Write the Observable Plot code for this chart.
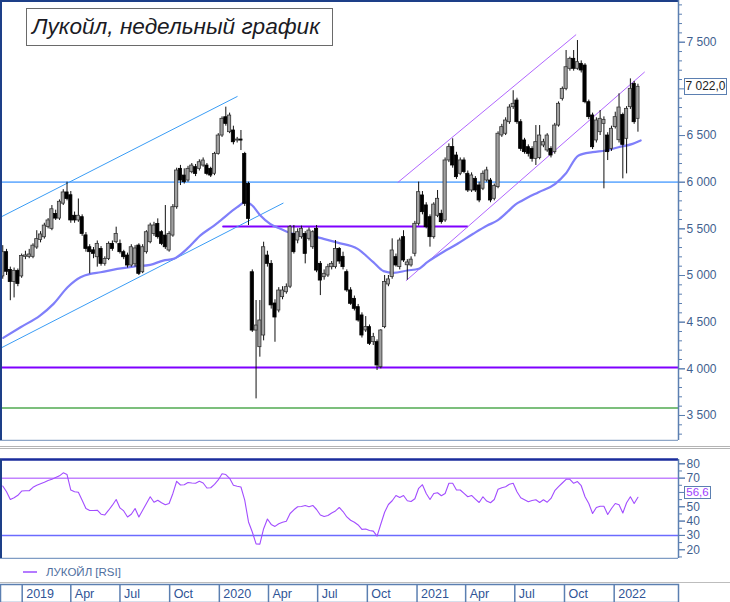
<!DOCTYPE html>
<html><head><meta charset="utf-8">
<script src="https://cdn.jsdelivr.net/npm/d3@7"></script>
<script src="https://cdn.jsdelivr.net/npm/@observablehq/plot@0.6"></script>
<style>
body{margin:0;background:#fff;}
#wrap{position:relative;width:730px;height:602px;overflow:hidden;font-family:"Liberation Sans",Arial,sans-serif;background:#fff;}
#wrap > *{position:absolute;}
</style></head><body><div id="wrap"></div>
<script>
// ---------- DATA ----------
const firstWeek = "2018-11-26"; // weekly candles, Mondays
const opens = [4990,5250,5060,4930,5050,4990,5200,5200,5200,5300,5380,5410,5520,5500,5660,5610,5770,5890,5860,5640,5590,5625,5430,5303,5270,5196,5285,5125,5178,5339,5357,5339,5250,5214,5107,5120,5321,5035,5250,5357,5446,5553,5464,5428,5268,5428,5732,6143,6071,6018,6107,6161,6143,6178,6178,6143,6090,6303,6500,6696,6536,6554,6446,6457,6303,5982,5035,4410,4232,4357,5214,5125,4700,4625,4768,4821,4880,5446,5375,5411,5446,5393,5303,5500,5125,4982,5000,5089,5090,5285,5200,5036,4840,4750,4661,4572,4411,4447,4286,4286,4018,4447,4904,4983,5197,5090,5411,5110,5108,5233,5554,5858,5751,5625,5411,5640,5661,5590,6233,6376,6286,6090,6233,6090,5911,6036,5965,5930,6018,6018,5822,5947,6501,6519,6643,6804,6875,6643,6447,6375,6357,6250,6260,6393,6340,6357,6322,6607,6893,7000,7215,7322,7215,7268,7250,6857,6715,6447,6536,6625,6500,6357,6590,6450,6720,6465,6804,7054,6679];
const highs = [5320,5280,5090,5080,5070,5230,5260,5280,5340,5480,5470,5560,5610,5750,5700,5810,5920,6000,5900,5680,5820,5650,5460,5330,5300,5370,5310,5200,5360,5370,5518,5380,5270,5240,5330,5320,5340,5330,5480,5560,5570,5607,5480,5750,5470,5760,6150,6180,6143,6170,6200,6190,6240,6260,6200,6160,6320,6520,6700,6804,6740,6600,6480,6554,6320,6000,5060,4732,4732,5357,5260,5160,4740,4870,4880,4910,5536,5536,5500,5530,5470,5510,5480,5536,5150,5060,5120,5150,5375,5300,5250,5060,4870,4780,4690,4600,4560,4470,4380,4310,4420,5000,5000,5393,5230,5400,5480,5170,5200,5580,6001,5900,5780,5650,5780,5911,5700,6260,6410,6465,6320,6260,6260,6120,6100,6060,6000,6120,6160,6040,5980,6540,6620,6690,6830,6980,6900,6670,6470,6400,6380,6607,6607,6460,6520,6380,6630,6860,7020,7411,7340,7411,7518,7300,7270,6880,6740,6690,6768,6700,6530,6600,6750,6947,6740,6810,7107,7080,7050];
const lows = [4960,5000,4730,4760,4880,4970,5170,5180,5180,5280,5350,5390,5500,5480,5590,5590,5750,5800,5560,5560,5570,5420,5250,5018,5180,5090,5100,5100,5160,5260,5340,5230,5170,5080,5090,5090,5000,5020,5230,5340,5420,5390,5320,5280,5250,5410,5710,5964,5980,6000,6090,6060,6120,6160,6070,6050,6070,6290,6480,6600,6520,6400,6420,6339,5740,5536,4390,3678,4125,4300,5090,4640,4285,4600,4740,4800,4860,5230,5340,5390,5125,5370,5280,5030,4785,4950,4980,5060,5070,5120,5060,4820,4680,4620,4500,4330,4390,4250,4250,3982,4000,4430,4880,4960,5090,5060,5140,4950,5090,5200,5530,5650,5500,5304,5390,5620,5550,5570,6210,6150,6030,6070,6090,5890,5890,5890,5780,5910,6000,5780,5800,5930,6480,6500,6620,6780,6620,6330,6300,6270,6215,6179,6240,6370,6320,6260,6300,6590,6870,6980,7190,7190,7200,7170,6840,6670,6350,6420,6500,5929,6232,6330,6570,6420,6036,6089,6780,6620,6536];
const closes = [5250,5040,4930,5050,4910,5210,5215,5225,5320,5390,5440,5535,5590,5710,5610,5790,5890,5820,5590,5590,5640,5446,5285,5250,5232,5339,5125,5178,5339,5285,5446,5250,5196,5107,5303,5290,5018,5303,5464,5536,5536,5411,5339,5303,5446,5732,6125,6018,6000,6143,6178,6089,6214,6232,6089,6071,6303,6500,6679,6625,6714,6428,6457,6446,5768,5607,4410,4464,4518,5303,5125,4680,4550,4839,4839,4875,5518,5250,5464,5500,5232,5482,5464,5053,4946,5018,5089,5125,5285,5150,5090,4840,4697,4643,4518,4357,4447,4268,4340,4036,4411,4930,4958,5268,5108,5375,5161,5140,5170,5554,5893,5679,5518,5411,5760,5822,5572,6233,6376,6179,6054,6233,6108,5911,6072,5911,5804,6090,6126,5804,5958,6519,6590,6661,6800,6840,6643,6357,6322,6304,6250,6429,6500,6429,6500,6286,6607,6840,7000,7232,7322,7215,7286,7197,6857,6697,6375,6661,6679,6668,6322,6572,6697,6800,6400,6786,7000,6643,7022];
const rsiValues = [64.5,60.5,55.1,56.3,58,61,61.2,61.2,63.6,65,66.1,67.1,68.3,69.2,70.4,71.6,73.7,72.5,61.7,60.5,60.1,54.6,48.8,47.4,47.4,47.6,44.8,44.3,47.6,51.1,55.1,49.2,47.1,42.9,44.8,48.8,42.9,47.6,52.3,57,53.2,54.6,52.8,51.4,52.3,59.3,67.8,65.2,65.4,66.9,66.6,66.4,67.8,66.6,63.1,63.3,65.7,68.7,73,72.5,69.9,65,64.3,63.8,54.6,39.4,32.4,24.1,23.9,34.7,41.5,37.7,36.3,38.2,39.2,39.9,45.3,47.9,50,50.2,50.9,50,50.9,48.1,44.3,43.2,43.9,45.7,47.1,49.5,46.7,42.9,40.6,39.2,37.3,34.2,34.5,33.5,33,29.5,38,46.2,51.6,54.2,57.9,56.5,57.9,54.2,53.7,55.6,62.9,65.4,59.3,55.1,59.3,59.8,57.7,59.3,66.4,66.4,61.7,61.7,59.3,57,57.9,55.4,53,57,54,52.8,55.1,62.2,63.3,64,65.7,66.4,60.5,56.3,54.9,53.5,54.4,54.9,53,54.9,53.2,55.8,61.2,64,66.6,69.2,69.2,66.4,67.6,64.7,57,52.3,45.3,49.5,50.4,50.4,44.6,48.8,52.3,51.4,45.7,52.8,57,52.3,56.6];
const maDates = ["2018-11-27","2018-12-29","2019-02-03","2019-02-28","2019-03-26","2019-04-19","2019-05-07","2019-05-26","2019-06-26","2019-07-26","2019-08-26","2019-09-19","2019-10-08","2019-11-03","2019-11-27","2019-12-21","2020-01-03","2020-02-03","2020-02-18","2020-03-02","2020-03-17","2020-04-04","2020-04-23","2020-05-17","2020-06-18","2020-07-12","2020-08-07","2020-09-13","2020-10-12","2020-10-31","2020-11-18","2020-12-14","2021-01-04","2021-01-20","2021-02-13","2021-03-17","2021-04-15","2021-05-11","2021-05-30","2021-06-17","2021-07-02","2021-07-15","2021-08-14","2021-09-14","2021-10-03","2021-10-27","2021-11-22","2021-12-16","2022-01-09","2022-02-04","2022-02-19"];
const maValues = [4332,4446,4571,4696,4875,4982,5018,5035,5071,5096,5114,5160,5178,5290,5430,5530,5589,5732,5786,5750,5643,5553,5500,5446,5428,5393,5352,5286,5143,5047,5029,5054,5072,5143,5233,5340,5447,5536,5590,5679,5760,5804,5893,5982,6090,6286,6322,6340,6375,6411,6447];
// trend lines
const blueUpperDates = ["2018-11-22","2020-02-03"], blueUpperValues = [5625,6918];
const blueLowerDates = ["2018-11-22","2020-04-28"], blueLowerValues = [4221,5775];
const purpleUpperDates = ["2020-11-27","2021-10-22"], purpleUpperValues = [6000,7579];
const purpleLowerDates = ["2020-12-12","2022-02-26"], purpleLowerValues = [4946,7179];
const resistDates = ["2020-01-08","2021-04-04"], resistValues = [5525,5525];
const levelBlue = [6000], levelPurple = [4015], levelGreen = [3580];
// axes (labels hidden behind the value boxes in the reference are left out)
const yTicks = [3500,4000,4500,5000,5500,6000,6500,7000,7500];
const yTickLabels = ["3 500","4 000","4 500","5 000","5 500","6 000","6 500","","7 500"];
const yMinor = [3300,3400,3600,3700,3800,3900,4100,4200,4300,4400,4600,4700,4800,4900,5100,5200,5300,5400,5600,5700,5800,5900,6100,6200,6300,6400,6600,6700,6800,6900,7100,7200,7300,7400,7600,7700,7800,7900];
const rsiTicks = [20,30,40,50,60,70,80];
const rsiTickLabels = ["20","30","40","50","","70","80"];
const rsiMinor = [15,25,35,45,55,65,75];
const rsiLevels70 = [70], rsiLevels30 = [30];
const quarterDates = ["2019-01-01","2019-04-01","2019-07-01","2019-10-01","2020-01-01","2020-04-01","2020-07-01","2020-10-01","2021-01-01","2021-04-01","2021-07-01","2021-10-01","2022-01-01"];
const quarterLabels = ["2019","Apr","Jul","Oct","2020","Apr","Jul","Oct","2021","Apr","Jul","Oct","2022"];
const titleText = "Лукойл, недельный график";
const legendText = "ЛУКОЙЛ [RSI]";
const lastPriceText = "7 022,0", lastPrice = 7022;
const lastRsiText = "56,6", lastRsi = 56.6;

// ---------- BUILD ----------
const t0 = Date.parse(firstWeek + "T00:00Z");
const weekDate = i => new Date(t0 + i * 7 * 864e5);
const D = s => new Date(s + "T00:00Z");
const candles = opens.map((o, i) => ({date: weekDate(i), open: o, high: highs[i], low: lows[i], close: closes[i], up: closes[i] >= o}));
const rsi = rsiValues.map((v, i) => ({date: weekDate(i), value: v}));
const ma = maDates.map((d, i) => ({date: D(d), value: maValues[i]}));
const seg = (ds, vs) => ds.map((d, i) => ({date: D(d), value: vs[i]}));
const yLab = new Map(yTicks.map((v, i) => [v, yTickLabels[i]]));
const rLab = new Map(rsiTicks.map((v, i) => [v, rsiTickLabels[i]]));
const yLabeled = yTicks.filter((v, i) => yTickLabels[i] !== "");
const rLabeled = rsiTicks.filter((v, i) => rsiTickLabels[i] !== "");
const xDomain = [new Date("2018-11-21T20:00Z"), new Date("2022-04-30T02:00Z")];
const axisCol = "#3f5f8f", axisLine = "#5b7fb1", navy = "#1d3f88";
const font = "Liberation Sans, Arial, sans-serif";

const main = Plot.plot({
  width: 730, height: 441, marginLeft: 0, marginRight: 52, marginTop: 0, marginBottom: 1,
  style: {fontFamily: font, background: "transparent"},
  x: {type: "utc", domain: xDomain, axis: null},
  y: {domain: [3232, 7947], label: null},
  marks: [
    Plot.ruleY(levelGreen, {stroke: "#7cbf7c", strokeWidth: 2}),
    Plot.ruleY(levelBlue, {stroke: "#72b2ff", strokeWidth: 1.8}),
    Plot.ruleY(levelPurple, {stroke: "#7f00ff", strokeWidth: 2}),
    Plot.line(seg(resistDates, resistValues), {x: "date", y: "value", stroke: "#7f00ff", strokeWidth: 2}),
    Plot.line(seg(blueUpperDates, blueUpperValues), {x: "date", y: "value", stroke: "#3a9cf5", strokeWidth: 1}),
    Plot.line(seg(blueLowerDates, blueLowerValues), {x: "date", y: "value", stroke: "#3a9cf5", strokeWidth: 1}),
    Plot.line(seg(purpleUpperDates, purpleUpperValues), {x: "date", y: "value", stroke: "#b066ff", strokeWidth: 1}),
    Plot.line(seg(purpleLowerDates, purpleLowerValues), {x: "date", y: "value", stroke: "#b066ff", strokeWidth: 1}),
    Plot.line(ma, {x: "date", y: "value", stroke: "#7f7ffa", strokeWidth: 2.2, curve: "monotone-x"}),
    Plot.ruleX(candles, {x: "date", y1: "low", y2: "high", stroke: "#111", strokeWidth: 1}),
    Plot.rect(candles, {x1: "date", x2: "date", y1: "open", y2: "close", insetLeft: -1.6, insetRight: -1.6,
      fill: d => d.up ? "#a0a0a0" : "#000", stroke: d => d.up ? "#333" : "#000", strokeWidth: 0.8}),
    Plot.ruleY([7947], {stroke: navy, strokeWidth: 3}),
    Plot.ruleY([3232], {stroke: "#8ea6c6", strokeWidth: 1.5}),
    Plot.ruleX([xDomain[0]], {stroke: navy, strokeWidth: 3}),
    Plot.ruleX([xDomain[1]], {stroke: axisLine, strokeWidth: 1.5}),
    Plot.axisY(yMinor, {anchor: "right", tickSize: 3, tickFormat: () => "", stroke: axisLine, label: null}),
    Plot.axisY(yTicks, {anchor: "right", tickSize: 6, tickFormat: () => "", stroke: axisLine, label: null}),
    Plot.axisY(yLabeled, {anchor: "right", tickSize: 6, tickPadding: 2, tickFormat: d => yLab.get(d), stroke: axisLine, fill: axisCol, fontSize: 12, label: null})
  ]
});

const rsiPlot = Plot.plot({
  width: 730, height: 101, marginLeft: 0, marginRight: 52, marginTop: 1, marginBottom: 1,
  style: {fontFamily: font, background: "transparent"},
  x: {type: "utc", domain: xDomain, axis: null},
  y: {domain: [13.9, 83.0], label: null},
  marks: [
    Plot.ruleY(rsiLevels70, {stroke: "#c283ff", strokeWidth: 1.5}),
    Plot.ruleY(rsiLevels30, {stroke: "#6b6bff", strokeWidth: 1.5}),
    Plot.line(rsi, {x: "date", y: "value", stroke: "#a24dff", strokeWidth: 1.1}),
    Plot.ruleY([83.0], {stroke: "#1a2c9c", strokeWidth: 2.5}),
    Plot.ruleY([13.9], {stroke: "#7f9cc4", strokeWidth: 1.5}),
    Plot.ruleX([xDomain[0]], {stroke: navy, strokeWidth: 3}),
    Plot.ruleX([xDomain[1]], {stroke: axisLine, strokeWidth: 1.5}),
    Plot.axisY(rsiMinor, {anchor: "right", tickSize: 3, tickFormat: () => "", stroke: axisLine, label: null}),
    Plot.axisY(rsiTicks, {anchor: "right", tickSize: 6, tickFormat: () => "", stroke: axisLine, label: null}),
    Plot.axisY(rLabeled, {anchor: "right", tickSize: 6, tickPadding: 2, tickFormat: d => rLab.get(d), stroke: axisLine, fill: axisCol, fontSize: 12, label: null})
  ]
});

const quarters = quarterDates.map((d, i) => ({date: D(d), label: quarterLabels[i]}));
const dateAxis = Plot.plot({
  width: 730, height: 18, marginLeft: 0, marginRight: 52, marginTop: 0, marginBottom: 0,
  style: {fontFamily: font, background: "transparent", overflow: "visible"},
  x: {type: "utc", domain: xDomain, axis: null},
  marks: [
    Plot.frame({stroke: axisLine, strokeWidth: 1.5}),
    Plot.ruleX(quarters, {x: "date", stroke: axisLine, strokeWidth: 1.5}),
    Plot.text(quarters, {x: "date", text: "label", dx: 4, textAnchor: "start", frameAnchor: "middle", fill: "#2f5496", fontSize: 12.5})
  ]
});

const wrap = document.getElementById("wrap");
function place(el, left, top) { el.style.left = left + "px"; el.style.top = top + "px"; wrap.appendChild(el); return el; }
function div(css, html) { const d = document.createElement("div"); d.style.cssText = css; if (html != null) d.textContent = html; return d; }

place(main, 0, 0);
place(div("width:730px;height:1px;border-top:1px solid #b4b4b4;border-bottom:1px solid #b4b4b4;"), 0, 446);
place(rsiPlot, 0, 458);
place(div("width:730px;height:0;border-top:1px solid #bdbdbd;"), 0, 582);
place(dateAxis, 0, 584);
// legend
place(div("width:14px;height:0;border-top:2px solid #b47aff;"), 23, 571);
place(div("font-size:11.5px;color:#4f6fa0;white-space:nowrap;line-height:14px;", legendText), 46, 565);
// title
place(div("box-sizing:border-box;width:307px;height:38px;border:1px solid #6a6a6a;background:#fff;font-style:italic;font-size:22.6px;line-height:35px;padding-left:5px;color:#1b1b24;white-space:nowrap;overflow:hidden;", titleText), 26, 8);
// value boxes
const yMain = main.scale("y"), yRsi = rsiPlot.scale("y");
const py = yMain.apply(lastPrice);
place(div("box-sizing:border-box;width:43px;height:17px;border:1px solid #5b7fb1;background:#fff;font-size:12px;line-height:15px;color:#222;text-align:center;white-space:nowrap;", lastPriceText), 684, Math.round(py - 8.5));
const ry = 458 + yRsi.apply(lastRsi);
place(div("box-sizing:border-box;width:27px;height:13px;border:1px solid #5b7fb1;background:#fff;font-size:11.5px;line-height:11px;color:#a040ff;text-align:center;white-space:nowrap;", lastRsiText), 684, Math.round(ry - 10.5));
</script></body></html>
